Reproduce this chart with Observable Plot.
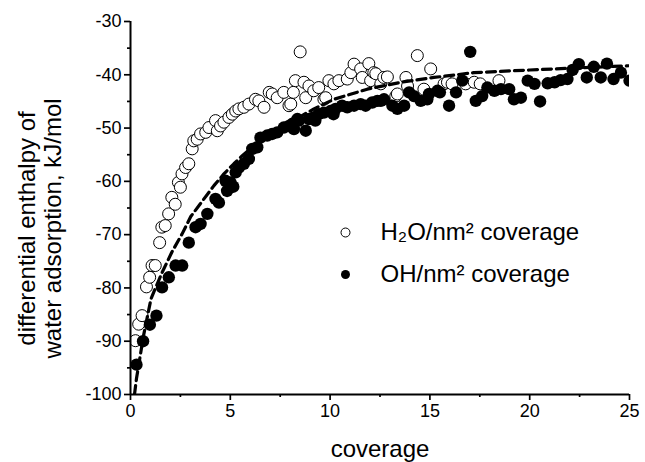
<!DOCTYPE html>
<html><head><meta charset="utf-8">
<script src="https://cdn.jsdelivr.net/npm/d3@7"></script>
<script src="https://cdn.jsdelivr.net/npm/@observablehq/plot@0.6"></script>
<style>
body{margin:0;background:#fff}
svg{font-family:"Liberation Sans",Arial,sans-serif}
</style>
</head><body><div id="chart"></div>
<script>
// H2O/nm2 coverage (open circles)
const h2oX = [0.25,0.41,0.58,0.8,0.96,1.08,1.24,1.46,1.57,1.74,1.91,2.07,2.24,2.4,2.5,2.58,2.76,2.92,3.09,3.17,3.34,3.51,3.77,3.93,4.26,4.35,4.51,4.68,4.93,5.1,5.27,5.43,5.68,5.93,6.26,6.43,6.69,6.95,7.1,7.35,7.68,7.94,8.03,8.16,8.26,8.5,8.69,8.78,8.94,9.18,9.43,9.69,9.78,9.94,10.19,10.44,10.86,11.04,11.2,11.53,11.61,11.94,12.03,12.19,12.29,12.54,12.69,12.87,13.29,13.37,13.8,13.88,14.37,14.7,15.04,15.71,15.88,16.11,16.79,17.22,17.52,18.46];
const h2oY = [-89.9,-86.8,-85.2,-79.8,-78,-75.8,-75.8,-71.5,-68.6,-68.3,-66.1,-63,-64.3,-60.2,-61.1,-58.6,-57.4,-56.7,-53.9,-52.4,-52.1,-51.1,-50.8,-49.9,-48.6,-50.5,-49.6,-48.9,-48,-47.4,-46.8,-46.4,-46.1,-45.5,-44.6,-44.9,-46.1,-43.3,-43.6,-44.3,-43.3,-45.8,-45.5,-43.3,-41.1,-35.7,-41.4,-44.3,-42.1,-43,-42.4,-44.6,-44.3,-41.1,-41.7,-41.1,-40.8,-39.6,-38,-38.9,-40.5,-37.9,-41.1,-39.6,-39.8,-41.7,-40.5,-40.4,-44,-43.6,-40.5,-42.1,-36.4,-42.7,-38.9,-41.7,-41.4,-41.7,-41.7,-41.4,-41.7,-41.1];

// OH/nm2 coverage (filled circles)
const ohX = [0.3,0.63,0.97,1.3,1.58,1.92,2.26,2.59,2.92,3.26,3.51,3.85,4.26,4.43,4.76,4.84,5.01,5.15,5.27,5.43,5.68,5.93,6.1,6.35,6.51,6.85,7.1,7.35,7.68,7.94,8.11,8.19,8.36,8.44,8.78,8.94,9.18,9.26,9.43,9.69,10.02,10.17,10.27,10.6,10.86,11.2,11.53,11.78,12.11,12.37,12.54,12.7,13.12,13.37,13.71,13.96,14.2,14.54,14.87,14.96,15.38,15.5,15.96,16.31,16.62,17.02,17.3,17.62,17.88,18.23,18.56,18.97,19.21,19.56,19.9,20.24,20.52,20.9,21.25,21.55,21.89,22.15,22.46,22.86,23.21,23.56,23.87,24.2,24.57,25.0];
const ohY = [-94.4,-90,-86.9,-85.2,-79.9,-78,-75.8,-75.8,-71.5,-68.6,-68,-66.1,-63.3,-64,-59.9,-61.8,-60.2,-61,-58.3,-57.4,-56.7,-55.8,-53.9,-53.6,-51.8,-51.4,-51.1,-50.8,-49.9,-49.6,-49.2,-50.2,-48.3,-48.6,-50.5,-48.3,-48,-48.6,-47.4,-47.1,-46.8,-47.4,-46.4,-45.8,-46.1,-45.8,-45.5,-45.8,-45.2,-44.9,-44.9,-44.6,-45.8,-46.4,-45.8,-43.3,-44,-44.9,-44.6,-43.6,-43,-43.3,-45.8,-43.3,-41.1,-35.7,-44.9,-44,-42.4,-43,-42.7,-42.7,-44.6,-44.3,-41.1,-41.7,-45,-41.6,-41.4,-41,-40.8,-39.1,-38,-40.5,-38.5,-40.5,-37.9,-40.8,-39.6,-41.1];

// dashed fitted curve
const fitX = [0.2,0.3,0.65,1.03,1.57,2.07,2.58,3.02,3.5,4.18,4.68,5.18,5.6,6.5,7.5,8.53,9.19,10.19,11.86,13.55,15.2,17.2,20,22.5,25];
const fitY = [-100,-97,-89,-82,-77.2,-73.3,-69.9,-66.6,-64.2,-60.8,-58.6,-56.7,-55.2,-52.3,-49.9,-47.8,-46.4,-44.6,-42.7,-41.4,-40.5,-39.6,-39.1,-38.7,-38.3];

const xTicks = [0,5,10,15,20,25];
const xMinor = [2.5,7.5,12.5,17.5,22.5];
const yTicks = [-100,-90,-80,-70,-60,-50,-40,-30];
const yMinor = [-95,-85,-75,-65,-55,-45,-35];
const xTitle = "coverage";
const yTitle = "differential enthalpy of\nwater adsorption, kJ/mol";
const legendLabels = ["H\u2082O/nm\u00b2 coverage", "OH/nm\u00b2 coverage"];

const h2o = h2oX.map((x, i) => ({x, y: h2oY[i]}));
const oh = ohX.map((x, i) => ({x, y: ohY[i]}));
const fit = fitX.map((x, i) => ({x, y: fitY[i]}));
const fmt = d => String(d);

const plot = Plot.plot({
  width: 645, height: 462,
  marginLeft: 130, marginRight: 16, marginTop: 21, marginBottom: 68,
  style: {fontFamily: '"Liberation Sans", Arial, sans-serif', background: "white", color: "black"},
  x: {domain: [0, 25]},
  y: {domain: [-100, -30]},
  marks: [
    Plot.dot(h2o, {x: "x", y: "y", r: 6, fill: "white", stroke: "black", strokeWidth: 1, clip: true}),
    Plot.dot(oh, {x: "x", y: "y", r: 6.2, fill: "black", stroke: "none", clip: true}),
    Plot.line(fit, {x: "x", y: "y", stroke: "black", strokeWidth: 3.2, strokeDasharray: "9,5", clip: true}),
    Plot.axisX({ticks: xTicks, tickFormat: fmt, tickSize: 6, tickPadding: 4, fontSize: 18, label: null, strokeWidth: 1.7}),
    Plot.axisX({ticks: xMinor, tickSize: 3, text: null, label: null, strokeWidth: 1.7}),
    Plot.axisY({ticks: yTicks, tickFormat: fmt, tickSize: 6, tickPadding: 3, fontSize: 18, label: null, strokeWidth: 1.7}),
    Plot.axisY({ticks: yMinor, tickSize: 3, text: null, label: null, strokeWidth: 1.7}),
    Plot.ruleX([0], {strokeWidth: 2}),
    Plot.ruleY([-100], {strokeWidth: 2}),
    Plot.text([xTitle], {frameAnchor: "bottom", dy: 55, fontSize: 24, lineAnchor: "middle", textAnchor: "middle"}),
    Plot.text([yTitle], {frameAnchor: "left", rotate: -90, dx: -90.5, dy: 20.5, fontSize: 24, lineHeight: 1.08, lineAnchor: "middle", textAnchor: "middle"}),
    Plot.dot([legendLabels[0]], {frameAnchor: "top-left", dx: 215, dy: 211, r: 4.5, fill: "white", stroke: "black", strokeWidth: 1}),
    Plot.dot([legendLabels[1]], {frameAnchor: "top-left", dx: 215, dy: 253, r: 4.5, fill: "black"}),
    Plot.text([legendLabels[0]], {frameAnchor: "top-left", dx: 250, dy: 211, textAnchor: "start", lineAnchor: "middle", fontSize: 24}),
    Plot.text([legendLabels[1]], {frameAnchor: "top-left", dx: 250, dy: 253, textAnchor: "start", lineAnchor: "middle", fontSize: 24})
  ]
});
document.getElementById("chart").appendChild(plot);
</script>
</body></html>
